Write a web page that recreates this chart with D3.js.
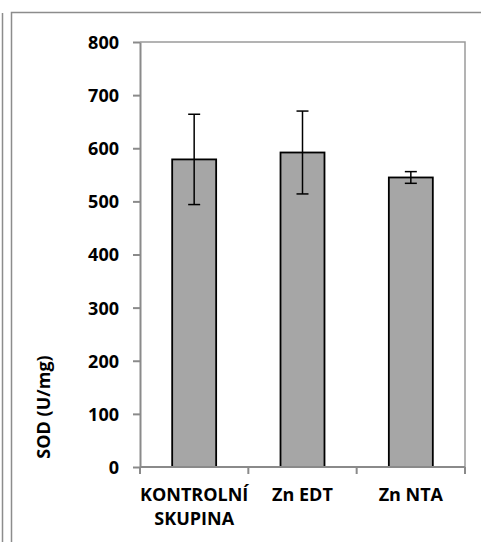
<!DOCTYPE html>
<html>
<head>
<meta charset="utf-8">
<script src="https://cdn.jsdelivr.net/npm/d3@7"></script>
<style>
  body { margin: 0; background: #fff; }
  text { font-family: "Open Sans", sans-serif; font-weight: bold; fill: #000; }
</style>
</head>
<body>
<div id="chart-area"></div>
<script>
const categories = ["KONTROLNÍ SKUPINA", "Zn EDT", "Zn NTA"];
const labelLines = [["KONTROLNÍ", "SKUPINA"], ["Zn EDT"], ["Zn NTA"]];
const means = [579, 592, 545];
const errors = [85, 78, 11];
const yTicks = [0, 100, 200, 300, 400, 500, 600, 700, 800];

const W = 481, H = 542;
const plot = {left: 140, right: 465, top: 42, bottom: 467};

const svg = d3.select('#chart-area')
    .append('svg')
    .attr('width', W)
    .attr('height', H);

// outer frame lines
svg.append('line')
    .attr('x1', 2.5).attr('x2', 2.5).attr('y1', 13).attr('y2', H)
    .attr('stroke', '#8c8c8c').attr('stroke-width', 1.5);
svg.append('path')
    .attr('d', `M11.5,${H}V12.5H${W}`)
    .attr('fill', 'none').attr('stroke', '#8c8c8c').attr('stroke-width', 1.5);

const data = categories.map((c, i) => ({cat: c, mean: means[i], err: errors[i], lines: labelLines[i]}));

const x = d3.scaleBand()
    .domain(categories)
    .range([plot.left, plot.right])
    .paddingInner(0.594)
    .paddingOuter(0.297);

const y = d3.scaleLinear()
    .domain([0, 800])
    .range([plot.bottom, plot.top]);

// plot area border (top and right)
svg.append('path')
    .attr('d', `M${plot.left},${plot.top}H${plot.right}V${plot.bottom}`)
    .attr('fill', 'none').attr('stroke', '#9a9a9a').attr('stroke-width', 1.5);

// bars
svg.selectAll('rect.bar')
    .data(data)
    .enter()
    .append('rect')
    .attr('class', 'bar')
    .attr('x', d => x(d.cat))
    .attr('y', d => y(d.mean))
    .attr('width', x.bandwidth())
    .attr('height', d => y(0) - y(d.mean))
    .attr('fill', '#a6a6a6')
    .attr('stroke', '#000')
    .attr('stroke-width', 1.8);

// error bars
const eb = svg.selectAll('g.err')
    .data(data)
    .enter()
    .append('g')
    .attr('class', 'err')
    .attr('stroke', '#000')
    .attr('stroke-width', 1.5);
const cx = d => x(d.cat) + x.bandwidth() / 2;
eb.append('line')
    .attr('x1', cx).attr('x2', cx)
    .attr('y1', d => y(d.mean + d.err)).attr('y2', d => y(d.mean - d.err));
eb.append('line')
    .attr('x1', d => cx(d) - 6).attr('x2', d => cx(d) + 6)
    .attr('y1', d => y(d.mean + d.err)).attr('y2', d => y(d.mean + d.err));
eb.append('line')
    .attr('x1', d => cx(d) - 6).attr('x2', d => cx(d) + 6)
    .attr('y1', d => y(d.mean - d.err)).attr('y2', d => y(d.mean - d.err));

// y axis
const yAxis = svg.append('g')
    .attr('transform', `translate(${plot.left},0)`)
    .call(d3.axisLeft(y).tickValues(yTicks).tickSize(7).tickSizeOuter(0).tickPadding(14));
yAxis.selectAll('path, line').attr('stroke', '#8a8a8a').attr('stroke-width', 2);
yAxis.selectAll('text')
    .style('font-family', '"Open Sans", sans-serif')
    .style('font-weight', 'bold')
    .style('font-size', '18px')
    .attr('fill', '#000')
    .attr('dy', '0.36em');

// x axis line and ticks at category boundaries
svg.append('line')
    .attr('x1', plot.left).attr('x2', plot.right)
    .attr('y1', y(0)).attr('y2', y(0))
    .attr('stroke', '#8a8a8a').attr('stroke-width', 2);
const bounds = d3.range(categories.length + 1).map(i => plot.left + i * x.step());
svg.selectAll('line.xtick')
    .data(bounds)
    .enter()
    .append('line')
    .attr('class', 'xtick')
    .attr('x1', d => d).attr('x2', d => d)
    .attr('y1', y(0)).attr('y2', y(0) + 7)
    .attr('stroke', '#8a8a8a').attr('stroke-width', 2);

// x labels
const xl = svg.selectAll('text.xlab')
    .data(data)
    .enter()
    .append('text')
    .attr('class', 'xlab')
    .attr('text-anchor', 'middle')
    .style('font-size', '18px')
    .attr('x', cx)
    .attr('y', 501);
xl.selectAll('tspan')
    .data(d => d.lines.map(l => ({l, x: cx(d)})))
    .enter()
    .append('tspan')
    .attr('x', t => t.x)
    .attr('dy', (t, i) => i === 0 ? 0 : 24)
    .text(t => t.l);

// y title
svg.append('text')
    .attr('transform', 'translate(50,407) rotate(-90)')
    .attr('text-anchor', 'middle')
    .style('font-size', '18px')
    .text('SOD (U/mg)');
</script>
</body>
</html>
